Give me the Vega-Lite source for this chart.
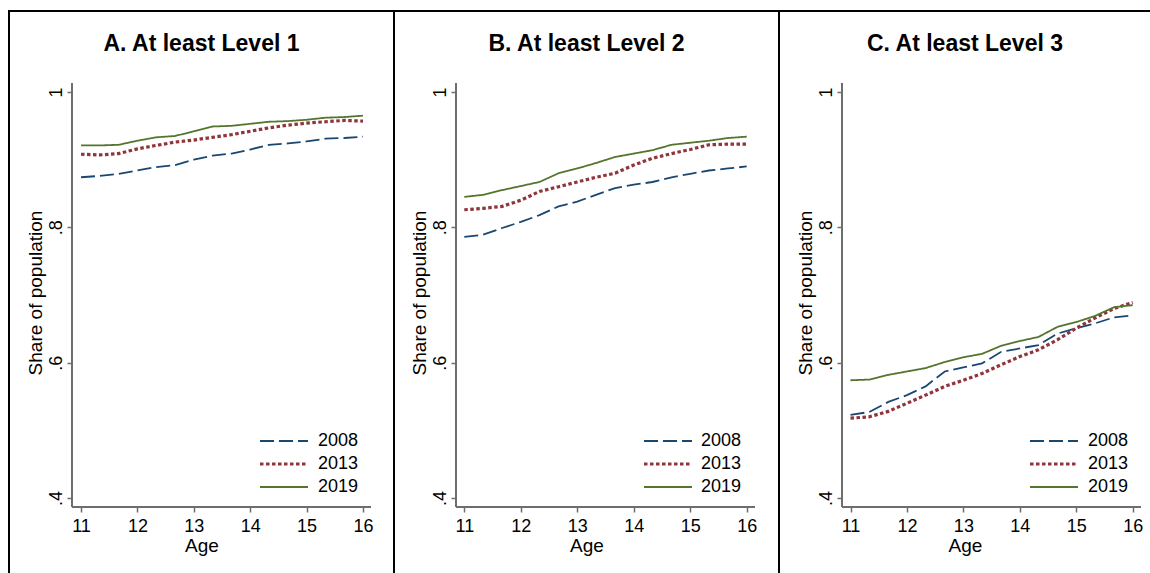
{
  "$schema": "https://vega.github.io/schema/vega-lite/v6.json",
  "background": "white",
  "padding": {"left": 8, "top": 10, "right": 0, "bottom": 0},
  "datasets": {
    "A": [
      {"age": 11, "year": "2008", "share": 0.874}, {"age": 11.33, "year": "2008", "share": 0.876}, {"age": 11.67, "year": "2008", "share": 0.879}, {"age": 12, "year": "2008", "share": 0.884},
      {"age": 12.33, "year": "2008", "share": 0.889}, {"age": 12.67, "year": "2008", "share": 0.892}, {"age": 13, "year": "2008", "share": 0.900}, {"age": 13.33, "year": "2008", "share": 0.906},
      {"age": 13.67, "year": "2008", "share": 0.909}, {"age": 14, "year": "2008", "share": 0.915}, {"age": 14.33, "year": "2008", "share": 0.922}, {"age": 14.67, "year": "2008", "share": 0.924},
      {"age": 15, "year": "2008", "share": 0.927}, {"age": 15.33, "year": "2008", "share": 0.931}, {"age": 15.67, "year": "2008", "share": 0.932}, {"age": 16, "year": "2008", "share": 0.934},
      {"age": 11, "year": "2013", "share": 0.908}, {"age": 11.33, "year": "2013", "share": 0.907}, {"age": 11.67, "year": "2013", "share": 0.909}, {"age": 12, "year": "2013", "share": 0.916},
      {"age": 12.33, "year": "2013", "share": 0.921}, {"age": 12.67, "year": "2013", "share": 0.926}, {"age": 13, "year": "2013", "share": 0.929}, {"age": 13.33, "year": "2013", "share": 0.933},
      {"age": 13.67, "year": "2013", "share": 0.937}, {"age": 14, "year": "2013", "share": 0.942}, {"age": 14.33, "year": "2013", "share": 0.947}, {"age": 14.67, "year": "2013", "share": 0.951},
      {"age": 15, "year": "2013", "share": 0.954}, {"age": 15.33, "year": "2013", "share": 0.956}, {"age": 15.67, "year": "2013", "share": 0.958}, {"age": 16, "year": "2013", "share": 0.957},
      {"age": 11, "year": "2019", "share": 0.921}, {"age": 11.33, "year": "2019", "share": 0.921}, {"age": 11.67, "year": "2019", "share": 0.922}, {"age": 12, "year": "2019", "share": 0.928},
      {"age": 12.33, "year": "2019", "share": 0.933}, {"age": 12.67, "year": "2019", "share": 0.935}, {"age": 13, "year": "2019", "share": 0.942}, {"age": 13.33, "year": "2019", "share": 0.949},
      {"age": 13.67, "year": "2019", "share": 0.950}, {"age": 14, "year": "2019", "share": 0.953}, {"age": 14.33, "year": "2019", "share": 0.956}, {"age": 14.67, "year": "2019", "share": 0.957},
      {"age": 15, "year": "2019", "share": 0.959}, {"age": 15.33, "year": "2019", "share": 0.962}, {"age": 15.67, "year": "2019", "share": 0.963}, {"age": 16, "year": "2019", "share": 0.965}
    ],
    "B": [
      {"age": 11, "year": "2008", "share": 0.786}, {"age": 11.33, "year": "2008", "share": 0.789}, {"age": 11.67, "year": "2008", "share": 0.799}, {"age": 12, "year": "2008", "share": 0.808},
      {"age": 12.33, "year": "2008", "share": 0.818}, {"age": 12.67, "year": "2008", "share": 0.831}, {"age": 13, "year": "2008", "share": 0.838}, {"age": 13.33, "year": "2008", "share": 0.848},
      {"age": 13.67, "year": "2008", "share": 0.858}, {"age": 14, "year": "2008", "share": 0.863}, {"age": 14.33, "year": "2008", "share": 0.867}, {"age": 14.67, "year": "2008", "share": 0.874},
      {"age": 15, "year": "2008", "share": 0.879}, {"age": 15.33, "year": "2008", "share": 0.884}, {"age": 15.67, "year": "2008", "share": 0.887}, {"age": 16, "year": "2008", "share": 0.890},
      {"age": 11, "year": "2013", "share": 0.826}, {"age": 11.33, "year": "2013", "share": 0.828}, {"age": 11.67, "year": "2013", "share": 0.831}, {"age": 12, "year": "2013", "share": 0.840},
      {"age": 12.33, "year": "2013", "share": 0.853}, {"age": 12.67, "year": "2013", "share": 0.860}, {"age": 13, "year": "2013", "share": 0.867}, {"age": 13.33, "year": "2013", "share": 0.874},
      {"age": 13.67, "year": "2013", "share": 0.880}, {"age": 14, "year": "2013", "share": 0.892}, {"age": 14.33, "year": "2013", "share": 0.902}, {"age": 14.67, "year": "2013", "share": 0.909},
      {"age": 15, "year": "2013", "share": 0.915}, {"age": 15.33, "year": "2013", "share": 0.922}, {"age": 15.67, "year": "2013", "share": 0.923}, {"age": 16, "year": "2013", "share": 0.923},
      {"age": 11, "year": "2019", "share": 0.845}, {"age": 11.33, "year": "2019", "share": 0.848}, {"age": 11.67, "year": "2019", "share": 0.855}, {"age": 12, "year": "2019", "share": 0.861},
      {"age": 12.33, "year": "2019", "share": 0.867}, {"age": 12.67, "year": "2019", "share": 0.880}, {"age": 13, "year": "2019", "share": 0.887}, {"age": 13.33, "year": "2019", "share": 0.895},
      {"age": 13.67, "year": "2019", "share": 0.904}, {"age": 14, "year": "2019", "share": 0.909}, {"age": 14.33, "year": "2019", "share": 0.914}, {"age": 14.67, "year": "2019", "share": 0.922},
      {"age": 15, "year": "2019", "share": 0.925}, {"age": 15.33, "year": "2019", "share": 0.928}, {"age": 15.67, "year": "2019", "share": 0.932}, {"age": 16, "year": "2019", "share": 0.934}
    ],
    "C": [
      {"age": 11, "year": "2008", "share": 0.523}, {"age": 11.33, "year": "2008", "share": 0.527}, {"age": 11.67, "year": "2008", "share": 0.542}, {"age": 12, "year": "2008", "share": 0.552},
      {"age": 12.33, "year": "2008", "share": 0.565}, {"age": 12.67, "year": "2008", "share": 0.587}, {"age": 13, "year": "2008", "share": 0.593}, {"age": 13.33, "year": "2008", "share": 0.599},
      {"age": 13.67, "year": "2008", "share": 0.616}, {"age": 14, "year": "2008", "share": 0.621}, {"age": 14.33, "year": "2008", "share": 0.626}, {"age": 14.67, "year": "2008", "share": 0.643},
      {"age": 15, "year": "2008", "share": 0.651}, {"age": 15.33, "year": "2008", "share": 0.658}, {"age": 15.67, "year": "2008", "share": 0.667}, {"age": 16, "year": "2008", "share": 0.670},
      {"age": 11, "year": "2013", "share": 0.518}, {"age": 11.33, "year": "2013", "share": 0.520}, {"age": 11.67, "year": "2013", "share": 0.528}, {"age": 12, "year": "2013", "share": 0.540},
      {"age": 12.33, "year": "2013", "share": 0.552}, {"age": 12.67, "year": "2013", "share": 0.565}, {"age": 13, "year": "2013", "share": 0.574}, {"age": 13.33, "year": "2013", "share": 0.584},
      {"age": 13.67, "year": "2013", "share": 0.597}, {"age": 14, "year": "2013", "share": 0.609}, {"age": 14.33, "year": "2013", "share": 0.619}, {"age": 14.67, "year": "2013", "share": 0.634},
      {"age": 15, "year": "2013", "share": 0.651}, {"age": 15.33, "year": "2013", "share": 0.666}, {"age": 15.67, "year": "2013", "share": 0.680}, {"age": 16, "year": "2013", "share": 0.689},
      {"age": 11, "year": "2019", "share": 0.574}, {"age": 11.33, "year": "2019", "share": 0.575}, {"age": 11.67, "year": "2019", "share": 0.582}, {"age": 12, "year": "2019", "share": 0.587},
      {"age": 12.33, "year": "2019", "share": 0.592}, {"age": 12.67, "year": "2019", "share": 0.601}, {"age": 13, "year": "2019", "share": 0.608}, {"age": 13.33, "year": "2019", "share": 0.613},
      {"age": 13.67, "year": "2019", "share": 0.625}, {"age": 14, "year": "2019", "share": 0.632}, {"age": 14.33, "year": "2019", "share": 0.638}, {"age": 14.67, "year": "2019", "share": 0.653},
      {"age": 15, "year": "2019", "share": 0.660}, {"age": 15.33, "year": "2019", "share": 0.669}, {"age": 15.67, "year": "2019", "share": 0.682}, {"age": 16, "year": "2019", "share": 0.685}
    ]
  },
  "bounds": "flush",
  "spacing": 0,
  "resolve": {
    "scale": {"x": "independent", "y": "independent", "color": "independent", "strokeDash": "independent"},
    "legend": {"color": "independent", "strokeDash": "independent"}
  },
  "hconcat": [
    {
      "width": 385, "height": 563,
      "title": {"text": "A. At least Level 1", "fontSize": 23, "font": "Liberation Sans", "fontWeight": "bold", "color": "black", "anchor": "middle", "frame": "group", "baseline": "alphabetic", "offset": -63},
      "data": {"name": "A"},
      "layer": [
        {
          "mark": {"type": "line"},
          "encoding": {
            "x": {"field": "age", "type": "quantitative", "scale": {"domain": [9.7234, 16.5496], "nice": false, "zero": false},
                  "axis": {"values": [11, 12, 13, 14, 15, 16], "format": "d", "title": "Age", "labelPadding": 5, "titlePadding": 1, "offset": -67}},
            "y": {"field": "share", "type": "quantitative", "scale": {"domain": [0.2877, 1.1197], "nice": false, "zero": false},
                  "axis": {"values": [0.4, 0.6, 0.8, 1], "labelExpr": "datum.value == 1 ? '1' : '.' + format(datum.value * 10, '.0f')", "labelAngle": -90, "labelAlign": "center", "labelBaseline": "bottom", "labelPadding": 2, "title": "Share of population", "titlePadding": 2, "offset": -63}},
            "color": {"field": "year", "type": "nominal", "scale": {"domain": ["2008", "2013", "2019"], "range": ["#1a476f", "#90353b", "#55752f"]},
                      "legend": {"orient": "none", "legendX": 266, "legendY": 421, "title": null, "symbolType": "stroke", "symbolSize": 2304, "labelOffset": 25, "rowPadding": 5, "padding": 0,
                                 "encode": {"symbols": {"update": {"strokeWidth": {"signal": "datum.value === '2013' ? 3.2 : 1.8"}}}}}},
            "strokeDash": {"field": "year", "type": "nominal", "scale": {"domain": ["2008", "2013", "2019"], "range": [[14, 5], [3.5, 2.5], [1, 0]]},
                      "legend": {"orient": "none", "legendX": 266, "legendY": 421, "title": null, "symbolType": "stroke", "symbolSize": 2304, "labelOffset": 25, "rowPadding": 5, "padding": 0,
                                 "encode": {"symbols": {"update": {"strokeWidth": {"signal": "datum.value === '2013' ? 3.2 : 1.8"}}}}}},
            "strokeWidth": {"condition": {"test": "datum.year === '2013'", "value": 3.2}, "value": 1.8}
          }
        },
        {
          "mark": {"type": "rule", "color": "#6e6e6e", "strokeWidth": 1.5},
          "encoding": {"x": {"datum": 10.8404, "type": "quantitative", "scale": {"domain": [9.7234, 16.5496], "nice": false, "zero": false}},
                       "y": {"datum": 0.3867, "type": "quantitative", "scale": {"domain": [0.2877, 1.1197], "nice": false, "zero": false}},
                       "y2": {"datum": 1.0133}}
        },
        {
          "mark": {"type": "rule", "color": "#6e6e6e", "strokeWidth": 1.5},
          "encoding": {"x": {"datum": 10.8404, "type": "quantitative", "scale": {"domain": [9.7234, 16.5496], "nice": false, "zero": false}},
                       "x2": {"datum": 16.14},
                       "y": {"datum": 0.3867, "type": "quantitative", "scale": {"domain": [0.2877, 1.1197], "nice": false, "zero": false}}}
        }
      ]
    },
    {
      "width": 385, "height": 563,
      "title": {"text": "B. At least Level 2", "fontSize": 23, "font": "Liberation Sans", "fontWeight": "bold", "color": "black", "anchor": "middle", "frame": "group", "baseline": "alphabetic", "offset": -63},
      "data": {"name": "B"},
      "layer": [
        {
          "mark": {"type": "line"},
          "encoding": {
            "x": {"field": "age", "type": "quantitative", "scale": {"domain": [9.7553, 16.5718], "nice": false, "zero": false},
                  "axis": {"values": [11, 12, 13, 14, 15, 16], "format": "d", "title": "Age", "labelPadding": 5, "titlePadding": 1, "offset": -67}},
            "y": {"field": "share", "type": "quantitative", "scale": {"domain": [0.2877, 1.1197], "nice": false, "zero": false},
                  "axis": {"values": [0.4, 0.6, 0.8, 1], "labelExpr": "datum.value == 1 ? '1' : '.' + format(datum.value * 10, '.0f')", "labelAngle": -90, "labelAlign": "center", "labelBaseline": "bottom", "labelPadding": 2, "title": "Share of population", "titlePadding": 2, "offset": -62}},
            "color": {"field": "year", "type": "nominal", "scale": {"domain": ["2008", "2013", "2019"], "range": ["#1a476f", "#90353b", "#55752f"]},
                      "legend": {"orient": "none", "legendX": 265, "legendY": 421, "title": null, "symbolType": "stroke", "symbolSize": 2304, "labelOffset": 24, "rowPadding": 5, "padding": 0,
                                 "encode": {"symbols": {"update": {"strokeWidth": {"signal": "datum.value === '2013' ? 3.2 : 1.8"}}}}}},
            "strokeDash": {"field": "year", "type": "nominal", "scale": {"domain": ["2008", "2013", "2019"], "range": [[14, 5], [3.5, 2.5], [1, 0]]},
                      "legend": {"orient": "none", "legendX": 265, "legendY": 421, "title": null, "symbolType": "stroke", "symbolSize": 2304, "labelOffset": 24, "rowPadding": 5, "padding": 0,
                                 "encode": {"symbols": {"update": {"strokeWidth": {"signal": "datum.value === '2013' ? 3.2 : 1.8"}}}}}},
            "strokeWidth": {"condition": {"test": "datum.year === '2013'", "value": 3.2}, "value": 1.8}
          }
        },
        {
          "mark": {"type": "rule", "color": "#6e6e6e", "strokeWidth": 1.5},
          "encoding": {"x": {"datum": 10.853, "type": "quantitative", "scale": {"domain": [9.7553, 16.5718], "nice": false, "zero": false}},
                       "y": {"datum": 0.3867, "type": "quantitative", "scale": {"domain": [0.2877, 1.1197], "nice": false, "zero": false}},
                       "y2": {"datum": 1.0133}}
        },
        {
          "mark": {"type": "rule", "color": "#6e6e6e", "strokeWidth": 1.5},
          "encoding": {"x": {"datum": 10.853, "type": "quantitative", "scale": {"domain": [9.7553, 16.5718], "nice": false, "zero": false}},
                       "x2": {"datum": 16.135},
                       "y": {"datum": 0.3867, "type": "quantitative", "scale": {"domain": [0.2877, 1.1197], "nice": false, "zero": false}}}
        }
      ]
    },
    {
      "width": 372, "height": 563,
      "title": {"text": "C. At least Level 3", "fontSize": 23, "font": "Liberation Sans", "fontWeight": "bold", "color": "black", "anchor": "middle", "frame": "group", "baseline": "alphabetic", "offset": -63},
      "data": {"name": "C"},
      "layer": [
        {
          "mark": {"type": "line"},
          "encoding": {
            "x": {"field": "age", "type": "quantitative", "scale": {"domain": [9.7332, 16.324], "nice": false, "zero": false},
                  "axis": {"values": [11, 12, 13, 14, 15, 16], "format": "d", "title": "Age", "labelPadding": 5, "titlePadding": 1, "offset": -67}},
            "y": {"field": "share", "type": "quantitative", "scale": {"domain": [0.2877, 1.1197], "nice": false, "zero": false},
                  "axis": {"values": [0.4, 0.6, 0.8, 1], "labelExpr": "datum.value == 1 ? '1' : '.' + format(datum.value * 10, '.0f')", "labelAngle": -90, "labelAlign": "center", "labelBaseline": "bottom", "labelPadding": 2, "title": "Share of population", "titlePadding": 2, "offset": -63}},
            "color": {"field": "year", "type": "nominal", "scale": {"domain": ["2008", "2013", "2019"], "range": ["#1a476f", "#90353b", "#55752f"]},
                      "legend": {"orient": "none", "legendX": 266, "legendY": 421, "title": null, "symbolType": "stroke", "symbolSize": 2304, "labelOffset": 25, "rowPadding": 5, "padding": 0,
                                 "encode": {"symbols": {"update": {"strokeWidth": {"signal": "datum.value === '2013' ? 3.2 : 1.8"}}}}}},
            "strokeDash": {"field": "year", "type": "nominal", "scale": {"domain": ["2008", "2013", "2019"], "range": [[14, 5], [3.5, 2.5], [1, 0]]},
                      "legend": {"orient": "none", "legendX": 266, "legendY": 421, "title": null, "symbolType": "stroke", "symbolSize": 2304, "labelOffset": 25, "rowPadding": 5, "padding": 0,
                                 "encode": {"symbols": {"update": {"strokeWidth": {"signal": "datum.value === '2013' ? 3.2 : 1.8"}}}}}},
            "strokeWidth": {"condition": {"test": "datum.year === '2013'", "value": 3.2}, "value": 1.8}
          }
        },
        {
          "mark": {"type": "rule", "color": "#6e6e6e", "strokeWidth": 1.5},
          "encoding": {"x": {"datum": 10.849, "type": "quantitative", "scale": {"domain": [9.7332, 16.324], "nice": false, "zero": false}},
                       "y": {"datum": 0.3867, "type": "quantitative", "scale": {"domain": [0.2877, 1.1197], "nice": false, "zero": false}},
                       "y2": {"datum": 1.0133}}
        },
        {
          "mark": {"type": "rule", "color": "#6e6e6e", "strokeWidth": 1.5},
          "encoding": {"x": {"datum": 10.849, "type": "quantitative", "scale": {"domain": [9.7332, 16.324], "nice": false, "zero": false}},
                       "x2": {"datum": 16.14},
                       "y": {"datum": 0.3867, "type": "quantitative", "scale": {"domain": [0.2877, 1.1197], "nice": false, "zero": false}}}
        }
      ]
    }
  ],
  "config": {
    "view": {"stroke": "black", "strokeWidth": 2},
    "font": "Liberation Sans",
    "axis": {"labelFont": "Liberation Sans", "titleFont": "Liberation Sans", "labelFontSize": 18, "titleFontSize": 19, "titleFontWeight": "normal",
             "labelColor": "black", "titleColor": "black", "tickColor": "#6e6e6e", "tickWidth": 1.5, "tickSize": 5, "domain": false, "grid": false, "labelFlush": false, "labelOverlap": false},
    "legend": {"labelFont": "Liberation Sans", "labelFontSize": 18, "labelColor": "black"},
    "line": {"strokeCap": "butt"}
  }
}
